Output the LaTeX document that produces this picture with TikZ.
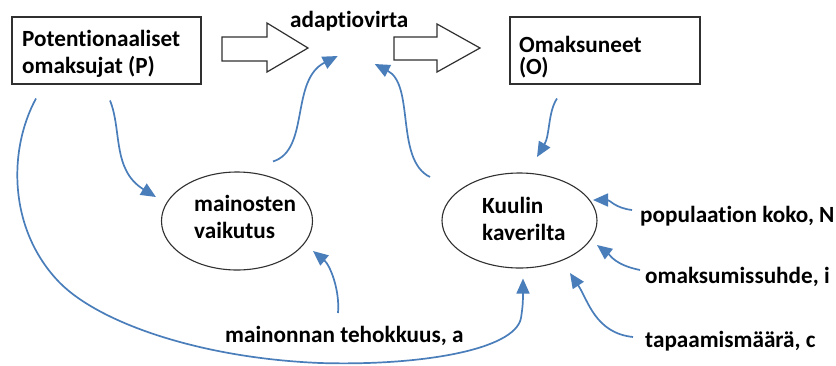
\documentclass[tikz,border=0pt]{standalone}
\usepackage{fontspec}
\setmainfont[Ligatures={NoCommon,NoRare,NoContextual},Contextuals=NoAlternate,RawFeature={-liga;-clig;-calt}]{Carlito}
\usetikzlibrary{arrows.meta,shapes.geometric}
\definecolor{flowblue}{HTML}{4A7EBB}
\definecolor{edge}{HTML}{303030}
\tikzset{
  lbl/.style={anchor=base west, inner sep=0pt, font=\bfseries\fontsize{23.2}{27}\selectfont},
  box/.style={draw=edge, line width=1.5pt, anchor=north west, inner sep=0pt},
  bubble/.style={draw=edge, line width=1.1pt, ellipse, inner sep=0pt},
  blockarrow/.style={draw=edge, line width=1.2pt, fill=white, line join=miter},
  flow/.style={draw=flowblue, line width=1.7pt,
    -{Triangle[length=15pt,width=13pt]}}
}
\begin{document}
\begin{tikzpicture}[x=1pt,y=-1pt]
\useasboundingbox (0,0) rectangle (836,365);
\fill[white] (0,0) rectangle (836,365);

% stocks
\node[box, minimum width=189pt, minimum height=67pt] (P) at (11,16) {};
\node[lbl] (Pa) at (22,46) {Potentionaaliset};
\node[lbl] (Pb) at (22,73) {omaksujat (P)};

\node[box, minimum width=190pt, minimum height=67pt] (O) at (509,16) {};
\node[lbl] (Oa) at (519,52) {Omaksuneet};
\node[lbl] (Ob) at (519,74) {(O)};

% flow between the stocks
\draw[blockarrow] (222,37) -- (267,37) -- (267,23) -- (308,48) -- (267,72) -- (267,61) -- (222,61) -- cycle;
\draw[blockarrow] (394,37) -- (437,37) -- (437,24) -- (480,48) -- (437,72) -- (437,60) -- (394,60) -- cycle;
\node[lbl] (ad) at (290,27) {adaptiovirta};

% auxiliary variables
\node[bubble, minimum width=151pt, minimum height=98pt] (mv) at (237,221) {};
\node[lbl] (mva) at (194,211) {mainosten};
\node[lbl] (mvb) at (194,238) {vaikutus};

\node[bubble, minimum width=155pt, minimum height=95pt] (kk) at (519.5,220.5) {};
\node[lbl] (kka) at (482,213) {Kuulin};
\node[lbl] (kkb) at (482,240) {kaverilta};

% parameters
\node[lbl] (popN) at (640,222) {populaation koko, N};
\node[lbl] (omak) at (645,283) {omaksumissuhde, i};
\node[lbl] (tapa) at (645,347) {tapaamismäärä, c};
\node[lbl] (teho) at (225,342) {mainonnan tehokkuus, a};

% influences
\draw[flow] ([shift={(25,14)}]P.south west)
  .. controls (8,150) and (8,230) .. (60,283)
  .. controls (100,323) and (200,358) .. (320,363)
  .. controls (420,366) and (515,350) .. (521,318)
  .. controls (523,305) and (523,300) .. ([shift={(3.5,10)}]kk.south);
\draw[flow] ([shift={(99,16)}]P.south west)
  .. controls (122,130) and (112,170) .. ([shift={(-5,-24)}]mv.west);
\draw[flow] ([shift={(36,-10)}]mv.north)
  .. controls (310,150) and (290,80) .. ([shift={(-11.5,29)}]ad.base);
\draw[flow] ([shift={(-89.5,-43.5)}]kk.center)
  .. controls (395,160) and (415,85) .. ([shift={(25.5,37)}]ad.base);
\draw[flow] ([shift={(48,14)}]O.south west)
  .. controls (548,112) and (550,135) .. ([shift={(17.5,-63.5)}]kk.center);
\draw[flow] ([shift={(-8,-12)}]popN.base west)
  .. controls (615,208) and (610,200) .. ([shift={(73.5,-20.5)}]kk.center);
\draw[flow] ([shift={(-5,-13)}]omak.base west)
  .. controls (615,265) and (610,255) .. ([shift={(77.5,24.5)}]kk.center);
\draw[flow] ([shift={(-12,-10)}]tapa.base west)
  .. controls (595,333) and (588,300) .. ([shift={(50.5,52.5)}]kk.center);
\draw[flow] ([shift={(113,-29)}]teho.base west)
  .. controls (340,290) and (330,265) .. ([shift={(76,30)}]mv.center);
\end{tikzpicture}
\end{document}
